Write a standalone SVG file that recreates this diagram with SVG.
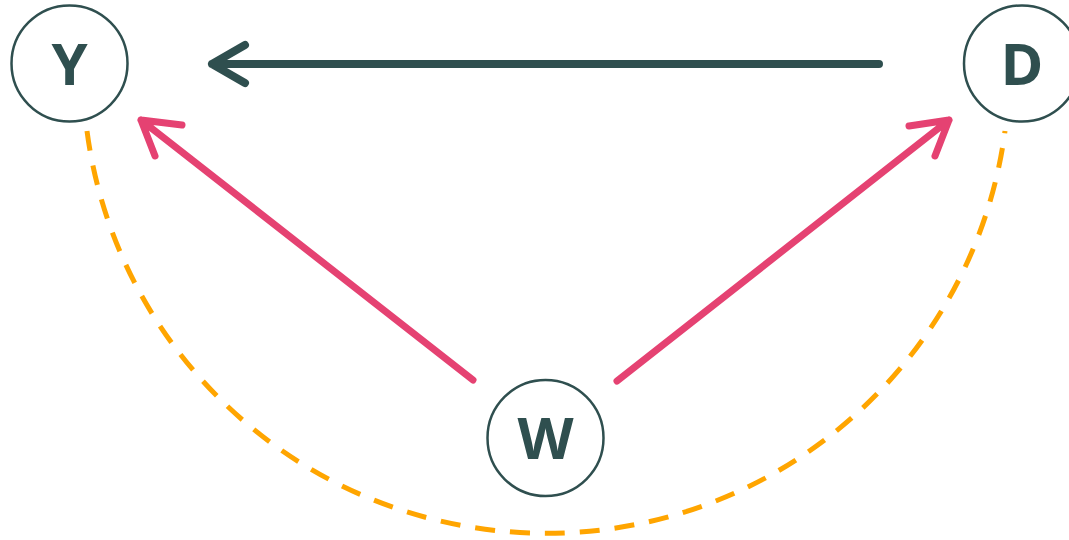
<svg xmlns="http://www.w3.org/2000/svg" width="1069" height="540" viewBox="0 0 1069 540">
<style>
.node{fill:#fff;stroke:#2f4f4f;stroke-width:2.5}
.lbl{font-family:"Open Sans","DejaVu Sans",sans-serif;font-weight:700;font-size:58px;fill:#2f4f4f;text-anchor:middle}
.dark{stroke:#2f4f4f;stroke-width:8;stroke-linecap:round;stroke-linejoin:round;fill:none}
.pink{stroke:#e54272;stroke-width:7;stroke-linecap:round;stroke-linejoin:round;fill:none}
.dash{stroke:#ffa500;stroke-width:5;fill:none;stroke-dasharray:20 15}
</style>
<rect width="1069" height="540" fill="#fff"/>
<g id="connectors">
<path class="dash" d="M 87 131 A 463 463 0 0 0 1005 131"/>
<path class="dark" d="M 879 64 L 212 64 M 245 45 L 212 64 L 245 83"/>
<path class="pink" d="M 473 380 L 141 120 M 182 125 L 141 120 L 155 156"/>
<path class="pink" d="M 617 381 L 949 120 M 909 126 L 949 120 L 935 156"/>
</g>
<g id="Y"><circle class="node" cx="69.5" cy="63.5" r="58"/><text class="lbl" x="69.5" y="84.5">Y</text></g>
<g id="D"><circle class="node" cx="1022" cy="63.5" r="58"/><text class="lbl" x="1022" y="84.5">D</text></g>
<g id="W"><circle class="node" cx="545.5" cy="438" r="58"/><text class="lbl" x="545.5" y="459">W</text></g>
</svg>
